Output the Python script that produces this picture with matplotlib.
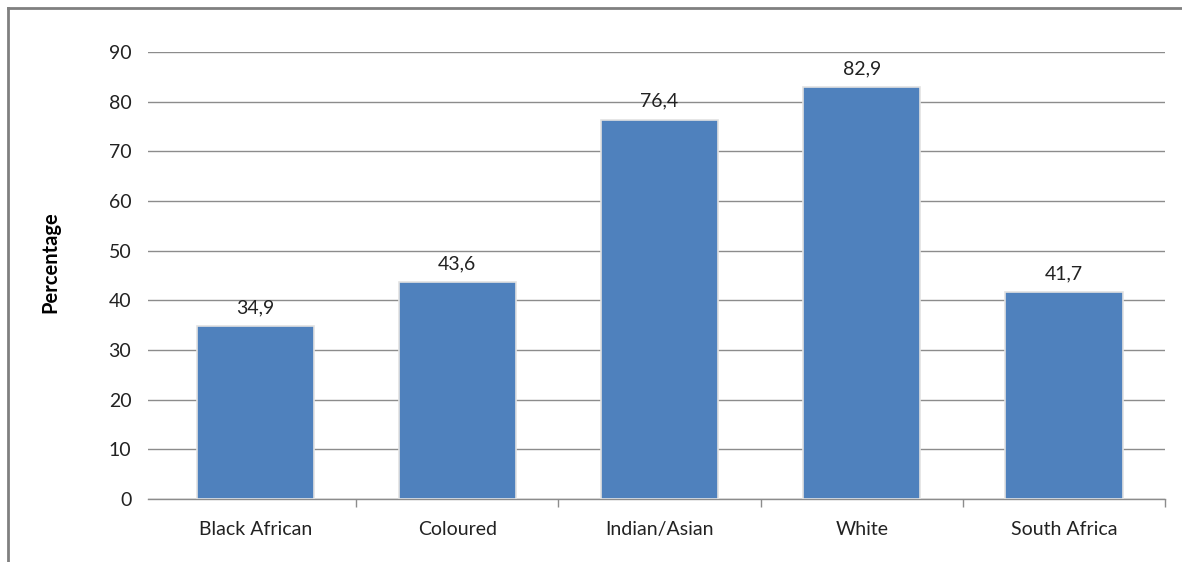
import matplotlib
matplotlib.use("Agg")
import matplotlib.pyplot as plt
from matplotlib.lines import Line2D

categories = ["Black African", "Coloured", "Indian/Asian", "White", "South Africa"]
values = [34.9, 43.6, 76.4, 82.9, 41.7]
value_labels = ["34,9", "43,6", "76,4", "82,9", "41,7"]
y_ticks = [0, 10, 20, 30, 40, 50, 60, 70, 80, 90]

plt.rcParams["font.family"] = ["Lato", "DejaVu Sans"]

W, H = 1182, 562
fig = plt.figure(figsize=(W / 100, H / 100), dpi=100)
ax = fig.add_axes([148 / W, 1 - 499 / H, (1165 - 148) / W, (499 - 52) / H])

bar_color = "#4f81bd"
x = list(range(len(categories)))
ax.bar(x, values, width=0.58, color=bar_color, edgecolor="#e2e2e2",
       linewidth=1.2, zorder=3)

for xi, v, lab in zip(x, values, value_labels):
    ax.annotate(lab, (xi, v), xytext=(0, 7), textcoords="offset points",
                ha="center", va="bottom", fontsize=14, color="#222222", zorder=4)

ax.set_xlim(-0.53, len(categories) - 0.5)
ax.set_ylim(0, 90)
ax.set_yticks(y_ticks)
ax.set_yticklabels([str(t) for t in y_ticks], fontsize=14, color="#222222")
ax.yaxis.grid(True, color="#8c8c8c", linewidth=1.0, zorder=0)
ax.tick_params(axis="y", length=0, pad=12)

# category labels centred, tick marks at category boundaries
ax.set_xticks(x)
ax.set_xticklabels(categories, fontsize=14, color="#222222")
ax.tick_params(axis="x", which="major", length=0, pad=16)
ax.set_xticks([i - 0.5 for i in range(1, len(categories) + 1)], minor=True)
ax.tick_params(axis="x", which="minor", length=6, color="#8c8c8c", width=1)

for side in ["top", "right", "left"]:
    ax.spines[side].set_visible(False)
ax.spines["bottom"].set_color("#8c8c8c")
ax.spines["bottom"].set_linewidth(1.0)

ax.set_ylabel("Percentage", fontsize=14.5, fontweight="bold", color="black", labelpad=0)
ax.yaxis.set_label_coords((60 - 148) / (1165 - 148), (499 - 262) / (499 - 52))

# outer frame along the top and left edges
fig.add_artist(Line2D([7.5 / W, 7.5 / W], [0, 1 - 7.5 / H], transform=fig.transFigure,
                      color="#808080", linewidth=2))
fig.add_artist(Line2D([7.5 / W, 1], [1 - 7.5 / H, 1 - 7.5 / H], transform=fig.transFigure,
                      color="#808080", linewidth=2))

fig.savefig("out.png", dpi=100, facecolor="white")
